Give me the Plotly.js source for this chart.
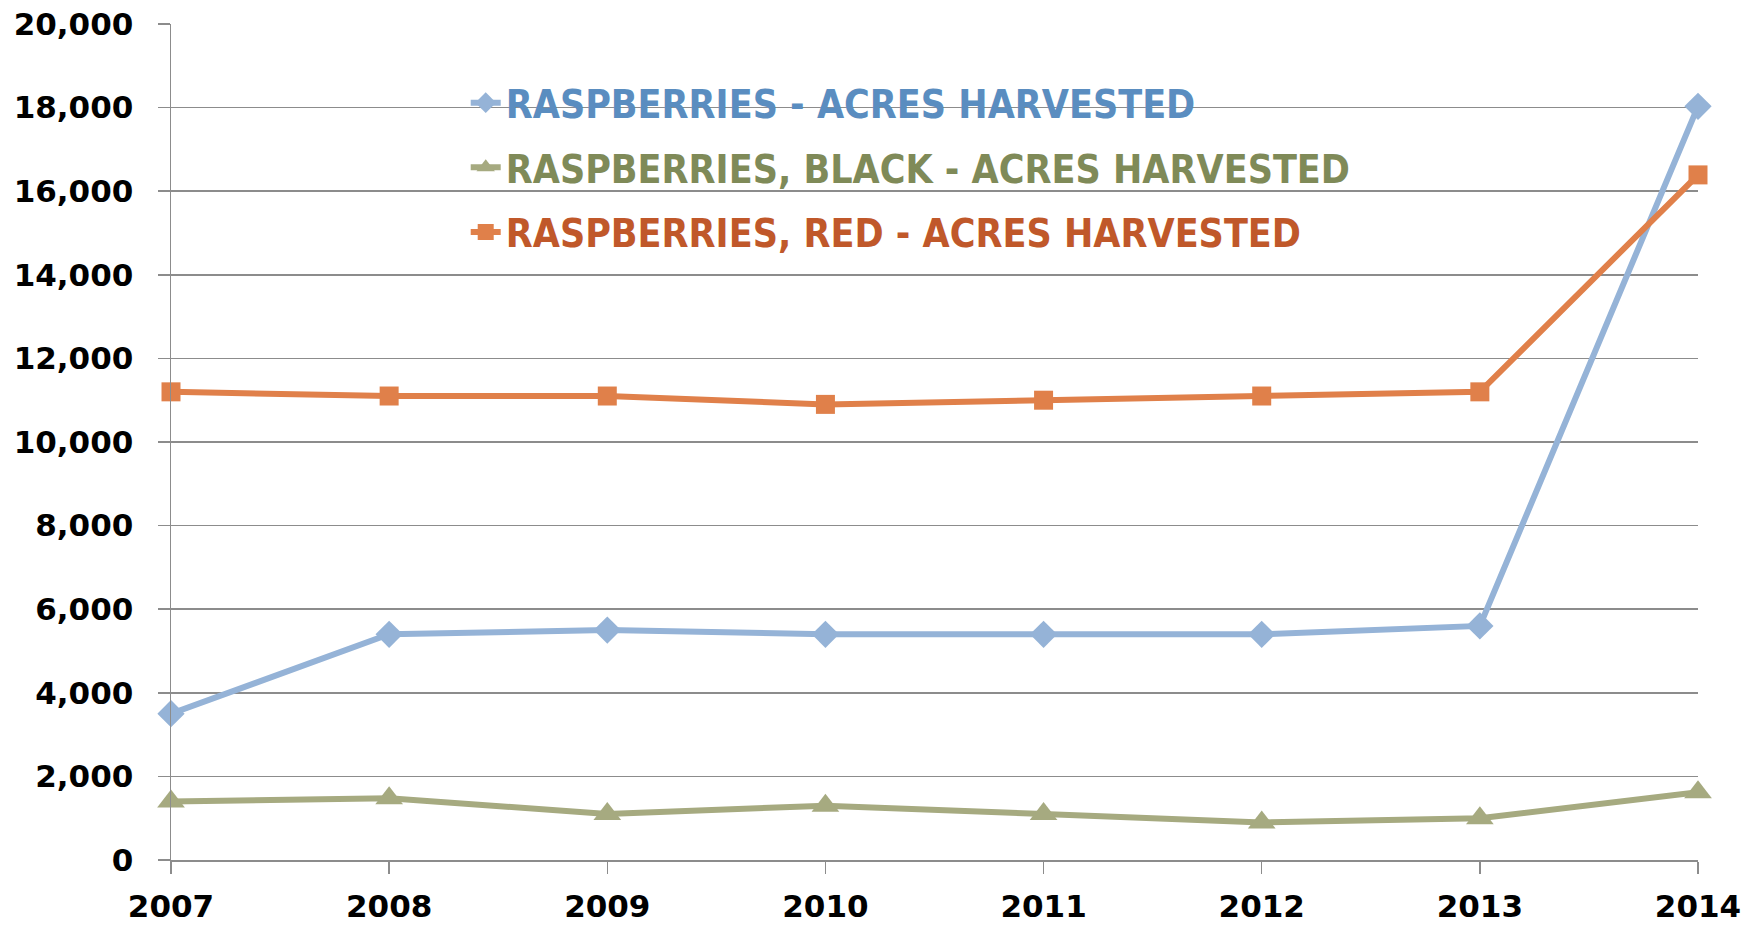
<!DOCTYPE html>
<html>
<head>
<meta charset="utf-8">
<script src="https://cdn.plot.ly/plotly-3.0.1.min.js"></script>
<style>html,body{margin:0;padding:0;background:#fff;}#chart{width:1760px;height:926px;}</style>
</head>
<body>
<div id="chart"></div>
<script>
const years = [2007, 2008, 2009, 2010, 2011, 2012, 2013, 2014];
const raspberriesAll = [3500, 5400, 5500, 5400, 5400, 5400, 5600, 18030];
const raspberriesBlack = [1400, 1480, 1100, 1300, 1100, 900, 1000, 1620];
const raspberriesRed = [11200, 11100, 11100, 10900, 11000, 11100, 11200, 16390];
const seriesNames = [
  'RASPBERRIES - ACRES HARVESTED',
  'RASPBERRIES, BLACK - ACRES HARVESTED',
  'RASPBERRIES, RED - ACRES HARVESTED'
];
const yTicks = [0, 2000, 4000, 6000, 8000, 10000, 12000, 14000, 16000, 18000, 20000];

const lineColors = ['#95B3D7', '#A6AA80', '#E0804A'];
const textColors = ['#5A8DC0', '#7F8A58', '#C0582A'];
const symbols = ['diamond', 'triangle-up', 'square'];
const sizes = [21, 24, 19];
const values = [raspberriesAll, raspberriesBlack, raspberriesRed];

const traces = values.map((v, i) => ({
  x: years,
  y: v,
  type: 'scatter',
  mode: 'lines+markers',
  cliponaxis: false,
  name: '<span style="color:' + textColors[i] + '">' + seriesNames[i] + '</span>',
  legendgroup: 'g' + i,
  line: {color: lineColors[i], width: 6},
  marker: {symbol: symbols[i], size: sizes[i], color: lineColors[i]}
}));

const tickFont = {family: '"DejaVu Sans", sans-serif', size: 31, color: '#000', weight: 700};

const layout = {
  width: 1760,
  height: 926,
  margin: {l: 171, r: 62, t: 24, b: 66},
  paper_bgcolor: '#fff',
  plot_bgcolor: '#fff',
  showlegend: true,
  legend: {
    x: 0.193, y: 0.944, xanchor: 'left', yanchor: 'top',
    bgcolor: 'rgba(0,0,0,0)',
    font: {family: '"Liberation Sans Narrow", "DejaVu Sans Condensed", sans-serif', size: 39, weight: 700},
    tracegroupgap: 11,
    itemwidth: 30,
    traceorder: 'grouped'
  },
  xaxis: {
    range: [2007, 2014],
    tickvals: years,
    ticktext: years.map(String),
    showgrid: false,
    zeroline: false,
    showline: true,
    linecolor: '#8c8c8c',
    linewidth: 1.5,
    ticks: 'outside',
    ticklen: 12,
    tickwidth: 1.5,
    tickcolor: '#8c8c8c',
    tickfont: tickFont,
    ticklabelstandoff: 6
  },
  yaxis: {
    range: [0, 20000],
    tickvals: yTicks,
    tickformat: ',d',
    showgrid: true,
    gridcolor: '#8c8c8c',
    gridwidth: 1.5,
    zeroline: false,
    showline: true,
    linecolor: '#8c8c8c',
    linewidth: 1.5,
    ticks: 'outside',
    ticklen: 12,
    tickwidth: 1.5,
    tickcolor: '#8c8c8c',
    tickfont: tickFont,
    ticklabelstandoff: 18
  }
};

Plotly.newPlot('chart', traces, layout, {displayModeBar: false, staticPlot: true});
</script>
</body>
</html>
